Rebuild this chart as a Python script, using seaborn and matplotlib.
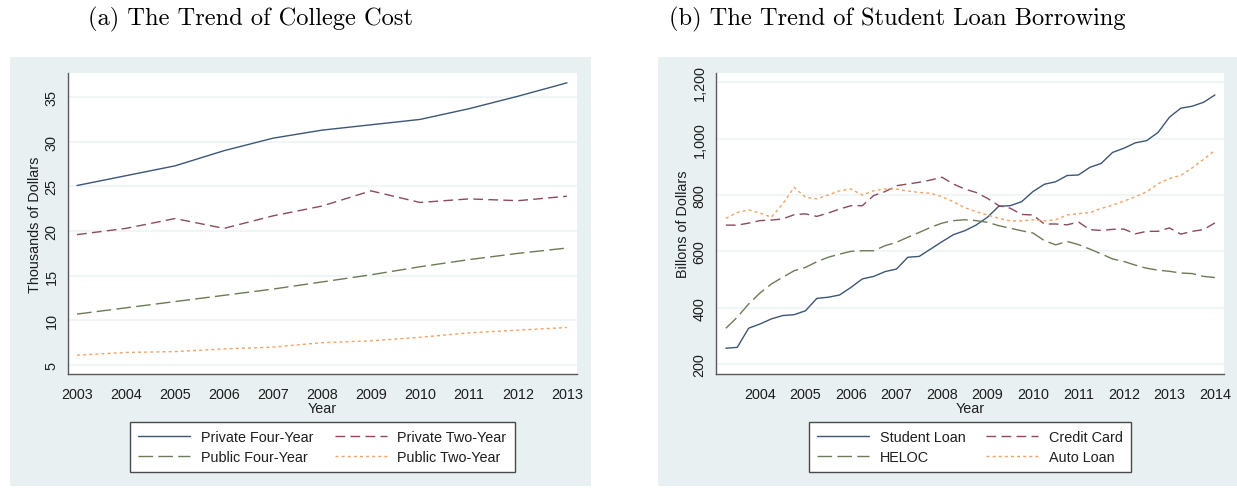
import numpy as np
import pandas as pd
import matplotlib
matplotlib.use("Agg")
import matplotlib.pyplot as plt
from matplotlib.lines import Line2D
from matplotlib.patches import Rectangle
import seaborn as sns

# ---- Panel (a): college cost, thousands of dollars ----
cost_years = list(range(2003, 2014))
private_four = [25.1, 26.2, 27.3, 29.0, 30.4, 31.3, 31.9, 32.5, 33.7, 35.1, 36.6]
private_two = [19.6, 20.3, 21.4, 20.3, 21.7, 22.8, 24.5, 23.2, 23.6, 23.4, 23.9]
public_four = [10.7, 11.4, 12.1, 12.8, 13.5, 14.3, 15.1, 16.0, 16.8, 17.5, 18.1]
public_two = [6.1, 6.4, 6.5, 6.8, 7.0, 7.5, 7.7, 8.1, 8.6, 8.9, 9.2]
cost_names = ["Private Four-Year", "Private Two-Year", "Public Four-Year", "Public Two-Year"]
cost_yticks = [5, 10, 15, 20, 25, 30, 35]
cost_xticks = list(range(2003, 2014))

# ---- Panel (b): household debt balances, billions of dollars (quarterly) ----
quarters = [y + q / 4 for y in range(2003, 2014) for q in range(1, 5)]
student_loan = [256, 259, 327, 342, 360, 372, 375, 389, 433, 437, 445, 472,
                502, 511, 528, 537, 579, 582, 608, 634, 659, 673, 693, 721,
                760, 762, 776, 812, 838, 847, 869, 871, 898, 912, 951, 966,
                985, 993, 1022, 1076, 1108, 1115, 1129, 1155]
credit_card = [693, 693, 700, 709, 711, 715, 730, 733, 724, 736, 750, 762,
               762, 798, 812, 833, 839, 845, 853, 863, 839, 821, 809, 788,
               762, 753, 731, 729, 697, 697, 694, 704, 677, 674, 678, 679,
               662, 671, 671, 683, 661, 671, 677, 701]
heloc = [327, 366, 413, 452, 484, 508, 531, 543, 563, 579, 590, 600,
         602, 602, 620, 632, 650, 667, 685, 700, 709, 712, 709, 703,
         691, 682, 673, 665, 638, 623, 635, 624, 608, 591, 573, 564,
         551, 540, 533, 529, 523, 521, 511, 507]
auto_loan = [717, 738, 747, 736, 721, 768, 827, 792, 786, 800, 815, 821,
             800, 815, 821, 821, 814, 809, 806, 794, 776, 755, 741, 729,
             717, 708, 708, 712, 708, 712, 729, 734, 737, 752, 764, 778,
             794, 811, 840, 858, 870, 896, 926, 958]
debt_names = ["Student Loan", "Credit Card", "HELOC", "Auto Loan"]
debt_yticks = [200, 400, 600, 800, 1000, 1200]
debt_ylabels = ["200", "400", "600", "800", "1,000", "1,200"]
debt_xticks = list(range(2004, 2015))

# Stata-like s2color styling: navy / maroon / forest green / dark orange
colors = ["#3d5677", "#8c4a5b", "#6c7b56", "#f0a466"]
dashes = ["", (7.0, 3.8), (10.5, 3.8), (2.2, 2.2)]
LW = 1.0

sns.set_style("white")
plt.rcParams["font.family"] = ["Liberation Sans", "DejaVu Sans"]

W, H = 1237, 489
fig = plt.figure(figsize=(W / 100, H / 100), dpi=100)
fig.patch.set_facecolor("white")

BG = "#e8f0f2"
GRID = "#edf3f5"
AXC = "#5a5a5a"
TXT = "#1e1e1e"
FS = 10.4


def fx(px):
    return px / W


def fy(py):
    return 1 - py / H


# graph-region backgrounds (behind the axes)
for x0, x1 in [(10, 591), (658, 1237)]:
    fig.patches.append(Rectangle((fx(x0), fy(487)), fx(x1 - x0), (487 - 58) / H,
                                 transform=fig.transFigure, facecolor=BG,
                                 edgecolor="none", zorder=-5))


def make_ax(x0, x1, y0, y1):
    ax = fig.add_axes([fx(x0), fy(y1), fx(x1 - x0), (y1 - y0) / H])
    ax.set_zorder(2)
    ax.set_facecolor("white")
    for s in ["top", "right"]:
        ax.spines[s].set_visible(False)
    for s in ["left", "bottom"]:
        ax.spines[s].set_color(AXC)
        ax.spines[s].set_linewidth(1.0)
    ax.tick_params(axis="both", which="major", direction="out", length=4.2,
                   width=0.9, color=AXC, labelsize=FS, labelcolor=TXT)
    ax.tick_params(axis="x", which="major", pad=5.5)
    ax.tick_params(axis="y", which="major", pad=2.5)
    ax.yaxis.grid(True, color=GRID, lw=1.2)
    ax.xaxis.grid(False)
    ax.set_axisbelow(True)
    return ax


def draw(ax, x, series, names):
    n = len(x)
    df = pd.DataFrame({
        "x": list(x) * len(series),
        "y": [v for s in series for v in s],
        "Series": [nm for nm in names for _ in range(n)],
    })
    sns.lineplot(data=df, x="x", y="y", hue="Series", style="Series",
                 hue_order=names, style_order=names,
                 palette=dict(zip(names, colors)),
                 dashes=dict(zip(names, dashes)),
                 lw=LW, legend=False, ax=ax, estimator=None, sort=True)
    handles = []
    for c, d, nm in zip(colors, dashes, names):
        h = Line2D([], [], color=c, lw=LW, label=nm)
        if d:
            h.set_dashes(d)
        handles.append(h)
    order = [0, 2, 1, 3]
    leg = ax.legend([handles[i] for i in order], [names[i] for i in order],
                    ncol=2, loc="upper center", bbox_to_anchor=(0.5, -0.159),
                    borderaxespad=0.0,
                    frameon=True, fancybox=False, framealpha=1, fontsize=FS,
                    handlelength=3.6, handletextpad=0.75, columnspacing=1.45,
                    labelspacing=0.45, borderpad=0.55)
    leg.get_frame().set_edgecolor("#4a4a4a")
    leg.get_frame().set_linewidth(1.0)
    for t in leg.get_texts():
        t.set_color(TXT)


def rotate_yticklabels(ax):
    for lab in ax.get_yticklabels():
        lab.set_rotation(90)
        lab.set_va("center")
        lab.set_ha("right")


# ---- panel (a) ----
axa = make_ax(68, 577, 74, 375)
draw(axa, cost_years, [private_four, private_two, public_four, public_two], cost_names)
axa.set_xlim(2002.816, 2013.204)
axa.set_ylim(3.99, 37.7)
axa.set_xticks(cost_xticks)
axa.set_xticklabels([str(v) for v in cost_xticks])
axa.set_yticks(cost_yticks)
axa.set_yticklabels([str(v) for v in cost_yticks])
rotate_yticklabels(axa)
axa.set_xlabel("Year", fontsize=FS, color=TXT, labelpad=-0.5)
axa.set_ylabel("Thousands of Dollars", fontsize=FS, color=TXT, labelpad=2)

# ---- panel (b) ----
axb = make_ax(716, 1224, 74, 375)
draw(axb, quarters, [student_loan, credit_card, heloc, auto_loan], debt_names)
axb.set_xlim(2003.033, 2014.2)
axb.set_ylim(164.5, 1233)
axb.set_xticks(debt_xticks)
axb.set_xticklabels([str(v) for v in debt_xticks])
axb.set_xticks(quarters, minor=True)
axb.tick_params(axis="x", which="minor", direction="out", length=2.5,
                width=0.8, color=AXC)
axb.set_yticks(debt_yticks)
axb.set_yticklabels(debt_ylabels)
rotate_yticklabels(axb)
axb.set_xlabel("Year", fontsize=FS, color=TXT, labelpad=-0.5)
axb.set_ylabel("Billons of Dollars", fontsize=FS, color=TXT, labelpad=2)

# ---- sub-figure captions ----
cap = dict(fontsize=17.6, family="cmr10", color="black", ha="center", va="center")
fig.text(fx(251), fy(19), "(a) The Trend of College Cost", **cap)
fig.text(fx(897), fy(19), "(b) The Trend of Student Loan Borrowing", **cap)

fig.savefig("out.png", dpi=100, facecolor="white")
